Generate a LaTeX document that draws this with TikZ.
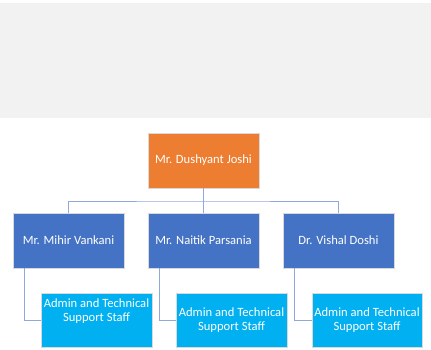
\documentclass[tikz,border=0pt]{standalone}
\usepackage{fontspec}
\setmainfont{Carlito}
\definecolor{bandgray}{HTML}{F2F2F2}
\definecolor{headorange}{HTML}{ED7D31}
\definecolor{mgrblue}{HTML}{4472C4}
\definecolor{staffcyan}{HTML}{00B0F0}
\definecolor{linkblue}{HTML}{8FA9DB}
\begin{document}
\begin{tikzpicture}[x=1pt,y=-1pt,
  box/.style={draw=white!85!black,line width=0.4pt},
  headbox/.style={box,fill=headorange},
  mgrbox/.style={box,fill=mgrblue},
  staffbox/.style={box,fill=staffcyan},
  lbl/.style={text=white,align=center,inner sep=0pt,font=\fontsize{12.6}{14}\selectfont},
  link/.style={draw=linkblue,line width=0.8pt}]
\useasboundingbox (0,0) rectangle (431,350);
\fill[bandgray] (0,3) rectangle (431,118);
% head
\path[headbox] (148,133) rectangle (259,188);
\node[lbl] (head) at (203.5,160.5) {Mr. Dushyant Joshi};
\coordinate (headb) at (203.5,188);
% managers
\path[mgrbox] (13,213) rectangle (124,268);
\node[lbl] (m1) at (68.5,240.5) {Mr. Mihir Vankani};
\path[mgrbox] (148,213) rectangle (259,268);
\node[lbl] (m2) at (203.5,240.5) {Mr. Naitik Parsania};
\path[mgrbox] (283,213) rectangle (394,268);
\node[lbl] (m3) at (338.5,240.5) {Dr. Vishal Doshi};
\coordinate (m1t) at (68.5,213);
\coordinate (m2t) at (203.5,213);
\coordinate (m3t) at (338.5,213);
\coordinate (bus) at (203.5,201);
\coordinate (m1b) at (24,268);
\coordinate (m2b) at (159,268);
\coordinate (m3b) at (294,268);
% staff
\path[staffbox] (41,293) rectangle (152,347);
\node[lbl] (s1) at (96.5,311) {Admin and Technical\\Support Staff};
\path[staffbox] (176,293) rectangle (287,347);
\node[lbl] (s2) at (231.5,320) {Admin and Technical\\Support Staff};
\path[staffbox] (312,293) rectangle (422,347);
\node[lbl] (s3) at (367,320) {Admin and Technical\\Support Staff};
\coordinate (s1l) at (41,320);
\coordinate (s2l) at (176,320);
\coordinate (s3l) at (312,320);
% connectors
\draw[link] (headb) -- (bus);
\draw[link] (m1t) |- (bus) -| (m3t);
\draw[link] (bus) -- (m2t);
\draw[link] (m1b) |- (s1l);
\draw[link] (m2b) |- (s2l);
\draw[link] (m3b) |- (s3l);
\end{tikzpicture}
\end{document}
